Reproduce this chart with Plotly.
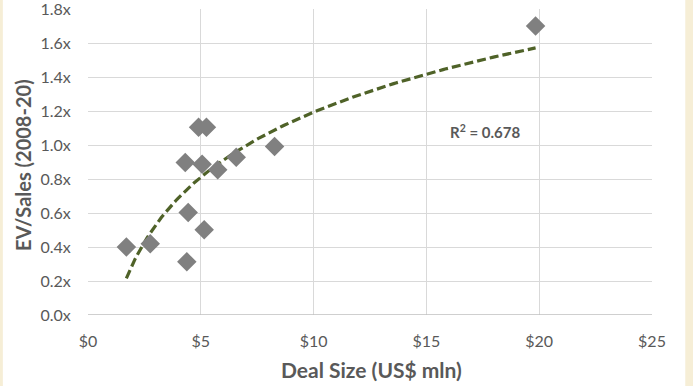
import numpy as np
import plotly.graph_objects as go

deal_size = [4.90, 5.25, 4.31, 5.06, 5.75, 6.57, 8.27, 1.70, 2.76, 4.44, 5.15, 4.38, 19.84]
ev_sales = [1.105, 1.105, 0.897, 0.887, 0.854, 0.928, 0.991, 0.40, 0.419, 0.603, 0.501, 0.313, 1.70]
r2_label = "R<sup>2</sup> = 0.678"
x_ticks = [0, 5, 10, 15, 20, 25]
x_tick_labels = ["$0", "$5", "$10", "$15", "$20", "$25"]
y_ticks = [0, 0.2, 0.4, 0.6, 0.8, 1.0, 1.2, 1.4, 1.6, 1.8]
y_tick_labels = ["0.0x", "0.2x", "0.4x", "0.6x", "0.8x", "1.0x", "1.2x", "1.4x", "1.6x", "1.8x"]
x_title = "Deal Size (US$ mln)"
y_title = "EV/Sales (2008-20)"

# logarithmic trendline fit
xs = np.array(deal_size)
ys = np.array(ev_sales)
a, b = np.polyfit(np.log(xs), ys, 1)
tx = np.linspace(xs.min(), xs.max(), 200)
ty = a * np.log(tx) + b

font = "Lato, 'Open Sans', sans-serif"
grey = "#595959"

fig = go.Figure()
fig.add_trace(go.Scatter(x=tx, y=ty, mode="lines",
                         line=dict(color="#4F6228", width=3.2, dash="9px,4px"),
                         hoverinfo="skip", showlegend=False))
fig.add_trace(go.Scatter(x=deal_size, y=ev_sales, mode="markers",
                         marker=dict(symbol="diamond", size=15, color="#808080"),
                         showlegend=False))

fig.add_annotation(x=17.6, y=1.08, text=r2_label, showarrow=False,
                   font=dict(family=font, size=15, color=grey, weight="bold"))

fig.add_annotation(x=0.502, y=0, xref="paper", yref="paper", yanchor="middle",
                   yshift=-54, text=x_title, showarrow=False,
                   font=dict(family=font, size=21, color=grey, weight="bold"))
fig.add_annotation(x=0, y=0.49, xref="paper", yref="paper", xanchor="center",
                   xshift=-65, textangle=-90, text=y_title, showarrow=False,
                   font=dict(family=font, size=20, color=grey, weight="bold"))

fig.add_shape(type="rect", xref="paper", yref="paper", x0=-0.151, x1=1.059, y0=-0.4, y1=1.2,
              fillcolor="white", line=dict(width=0), layer="below")

fig.update_layout(
    width=693, height=386,
    margin=dict(l=88, r=41, t=9, b=71, autoexpand=False),
    paper_bgcolor="#F6EED6",
    plot_bgcolor="white",
    font=dict(family=font, color=grey, size=15),
    xaxis=dict(range=[0, 25], tickvals=x_ticks, ticktext=x_tick_labels,
               showgrid=True, gridcolor="#D9D9D9", gridwidth=1,
               zeroline=False, showline=False, ticks="outside", ticklen=12,
               tickcolor="rgba(0,0,0,0)", automargin=False, ticklabeloverflow="allow",
               tickfont=dict(size=16, color=grey)),
    yaxis=dict(range=[0, 1.8], tickvals=y_ticks, ticktext=y_tick_labels,
               showgrid=True, gridcolor="#D9D9D9", gridwidth=1,
               zeroline=False, showline=False, ticks="outside", ticklen=13,
               tickcolor="rgba(0,0,0,0)", automargin=False, ticklabeloverflow="allow",
               tickfont=dict(size=16, color=grey)),
)
fig.add_shape(type="line", xref="paper", yref="y", x0=0, x1=1, y0=0, y1=0,
              line=dict(color="#BFBFBF", width=1.3))

fig.write_html("out.html", config={"displayModeBar": False},
               post_script="document.body.style.margin='0';document.body.style.overflow='hidden';")
